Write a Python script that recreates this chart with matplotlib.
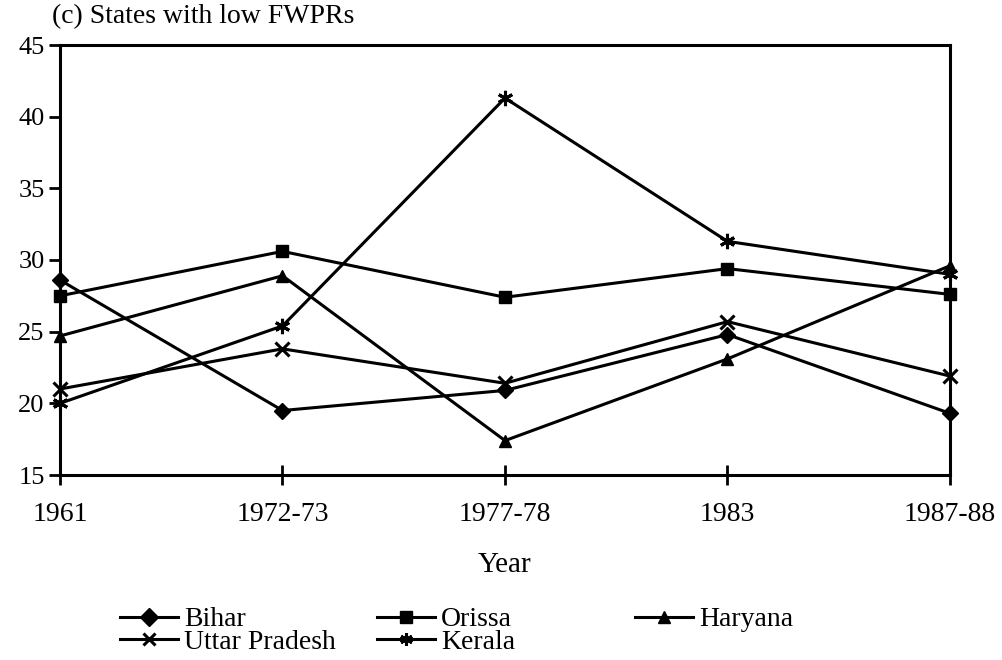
import matplotlib.pyplot as plt

plt.rcParams['font.family'] = ['Liberation Serif', 'DejaVu Serif']

years = ["1961", "1972-73", "1977-78", "1983", "1987-88"]
bihar = [28.6, 19.5, 20.9, 24.8, 19.3]
orissa = [27.5, 30.6, 27.4, 29.4, 27.6]
haryana = [24.7, 28.9, 17.4, 23.1, 29.6]
uttar_pradesh = [21.0, 23.8, 21.4, 25.7, 21.9]
kerala = [20.0, 25.4, 41.3, 31.3, 29.0]

series = [
    ("Bihar", bihar, "D", 8),
    ("Orissa", orissa, "s", 9),
    ("Haryana", haryana, "^", 9),
    ("Uttar Pradesh", uttar_pradesh, "x", 10),
    ("Kerala", kerala, (6, 2, 0), 11),
]

fig = plt.figure(figsize=(10.03, 6.6), dpi=100)
ax = fig.add_axes([60 / 1003, 1 - 475 / 660, 890 / 1003, 430 / 660])

x = list(range(len(years)))
handles = {}
for name, vals, mk, ms in series:
    h, = ax.plot(x, vals, color="black", lw=2.2, marker=mk, markersize=ms,
                 markeredgewidth=2.2 if mk in ("x", (6, 2, 0)) else 1,
                 markerfacecolor="black", markeredgecolor="black", clip_on=False)
    handles[name] = h

ax.set_xlim(0, 4)
ax.set_ylim(15, 45)
ax.set_yticks(range(15, 46, 5))
ax.set_xticks(x)
ax.set_xticklabels(years, fontsize=20)
ax.tick_params(axis="y", direction="out", length=8, width=2, labelsize=19, pad=3)
ax.tick_params(axis="x", direction="inout", length=15, width=2, labelsize=20, pad=12)
for s in ax.spines.values():
    s.set_linewidth(2.2)

ax.set_xlabel("Year", fontsize=21, labelpad=18)
fig.text(52 / 1003, 1 - 17 / 660, "(c) States with low FWPRs", fontsize=20,
         va="center", ha="left")

# legend laid out as three separate columns, like the original
cols = [(["Bihar", "Uttar Pradesh"], 120), (["Orissa", "Kerala"], 377), (["Haryana"], 635)]
for names, px in cols:
    leg = fig.legend([handles[n] for n in names], names, loc="upper left",
                     bbox_to_anchor=(px / 1003, 1 - 607 / 660), frameon=False,
                     fontsize=20, handlelength=2.1, handletextpad=0.2,
                     labelspacing=-0.1, borderpad=0, borderaxespad=0)
    for lh in leg.legend_handles:
        lh.set_markersize(9)

fig.savefig("out.png", dpi=100)
